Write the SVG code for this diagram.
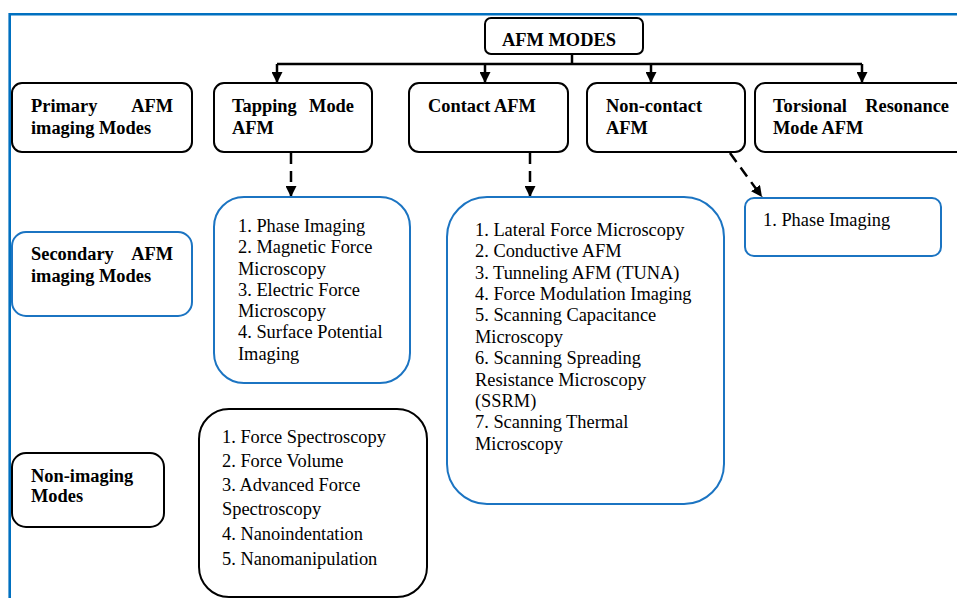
<svg xmlns="http://www.w3.org/2000/svg" width="957" height="598" viewBox="0 0 957 598">
<style>
.bk{fill:#fff;stroke:#000;stroke-width:2}
.bl{fill:#fff;stroke:#1b74c2;stroke-width:2}
.t{font-family:"Liberation Serif","Times New Roman",serif;font-size:18.4px;fill:#000}
.b{font-weight:bold}
.c{fill:none;stroke:#000;stroke-width:2.5}
.d{fill:none;stroke:#000;stroke-width:2.5;stroke-dasharray:11 7}
</style>
<defs>
<marker id="ah" viewBox="0 0 10 10" refX="10" refY="5" markerWidth="11" markerHeight="11" markerUnits="userSpaceOnUse" orient="auto">
<path d="M0,0 L10,5 L0,10 z" fill="#000"/>
</marker>
</defs>
<rect width="957" height="598" fill="#fff"/>
<path d="M9.7,598 V14.3 H957" fill="none" stroke="#0070c0" stroke-width="2.6"/>
<g id="connectors">
<path class="c" d="M572,54 V64"/>
<path class="c" d="M277,64 H862"/>
<path class="c" d="M277,64 V83" marker-end="url(#ah)"/>
<path class="c" d="M485,64 V83" marker-end="url(#ah)"/>
<path class="c" d="M651,64 V83" marker-end="url(#ah)"/>
<path class="c" d="M862,64 V83" marker-end="url(#ah)"/>
<path class="d" d="M291,153 V197" marker-end="url(#ah)"/>
<path class="d" d="M530,153 V197" marker-end="url(#ah)"/>
<path class="d" d="M730,153 L762,197" marker-end="url(#ah)"/>
</g>
<g id="afm-modes">
<rect class="bk" x="485" y="18" width="158" height="36" rx="6"/>
<text class="t b" x="502" y="46">AFM MODES</text>
</g>
<g id="primary">
<rect class="bk" x="12" y="83" width="180" height="69" rx="10"/>
<text class="t b" y="112"><tspan x="31">Primary</tspan><tspan x="173" text-anchor="end">AFM</tspan></text>
<text class="t b" x="31" y="134">imaging Modes</text>
</g>
<g id="tapping">
<rect class="bk" x="214" y="83" width="158" height="69" rx="10"/>
<text class="t b" y="112"><tspan x="232">Tapping</tspan><tspan x="354" text-anchor="end">Mode</tspan></text>
<text class="t b" x="232" y="134">AFM</text>
</g>
<g id="contact">
<rect class="bk" x="409" y="83" width="159" height="69" rx="10"/>
<text class="t b" x="428" y="112">Contact AFM</text>
</g>
<g id="noncontact">
<rect class="bk" x="587" y="83" width="158" height="69" rx="10"/>
<text class="t b" x="606" y="112">Non-contact</text>
<text class="t b" x="606" y="134">AFM</text>
</g>
<g id="torsional">
<rect class="bk" x="755" y="83" width="220" height="69" rx="10"/>
<text class="t b" y="112"><tspan x="773">Torsional</tspan><tspan x="949" text-anchor="end">Resonance</tspan></text>
<text class="t b" x="773" y="134">Mode AFM</text>
</g>
<g id="secondary">
<rect class="bl" x="12" y="232" width="180" height="84" rx="14"/>
<text class="t b" y="260"><tspan x="31">Secondary</tspan><tspan x="173" text-anchor="end">AFM</tspan></text>
<text class="t b" x="31" y="282">imaging Modes</text>
</g>
<g id="tapping-list">
<rect class="bl" x="214" y="197" width="196" height="186" rx="30"/>
<text class="t">
<tspan x="238" y="232">1. Phase Imaging</tspan>
<tspan x="238" y="253">2. Magnetic Force</tspan>
<tspan x="238" y="275">Microscopy</tspan>
<tspan x="238" y="296">3. Electric Force</tspan>
<tspan x="238" y="317">Microscopy</tspan>
<tspan x="238" y="338">4. Surface Potential</tspan>
<tspan x="238" y="360">Imaging</tspan>
</text>
</g>
<g id="contact-list">
<rect class="bl" x="447" y="197" width="277" height="307" rx="40"/>
<text class="t">
<tspan x="475" y="236">1. Lateral Force Microscopy</tspan>
<tspan x="475" y="257">2. Conductive AFM</tspan>
<tspan x="475" y="279">3. Tunneling AFM (TUNA)</tspan>
<tspan x="475" y="300">4. Force Modulation Imaging</tspan>
<tspan x="475" y="321">5. Scanning Capacitance</tspan>
<tspan x="475" y="343">Microscopy</tspan>
<tspan x="475" y="364">6. Scanning Spreading</tspan>
<tspan x="475" y="386">Resistance Microscopy</tspan>
<tspan x="475" y="407">(SSRM)</tspan>
<tspan x="475" y="428">7. Scanning Thermal</tspan>
<tspan x="475" y="450">Microscopy</tspan>
</text>
</g>
<g id="noncontact-list">
<rect class="bl" x="745" y="198" width="196" height="58" rx="9"/>
<text class="t" x="763" y="226">1. Phase Imaging</text>
</g>
<g id="nonimaging">
<rect class="bk" x="12" y="453" width="152" height="74" rx="14"/>
<text class="t b" x="31" y="482">Non-imaging</text>
<text class="t b" x="31" y="502">Modes</text>
</g>
<g id="nonimaging-list">
<rect class="bk" x="199" y="409" width="228" height="188" rx="30"/>
<text class="t">
<tspan x="222" y="443">1. Force Spectroscopy</tspan>
<tspan x="222" y="467">2. Force Volume</tspan>
<tspan x="222" y="491">3. Advanced Force</tspan>
<tspan x="222" y="515">Spectroscopy</tspan>
<tspan x="222" y="540">4. Nanoindentation</tspan>
<tspan x="222" y="565">5. Nanomanipulation</tspan>
</text>
</g>
</svg>
